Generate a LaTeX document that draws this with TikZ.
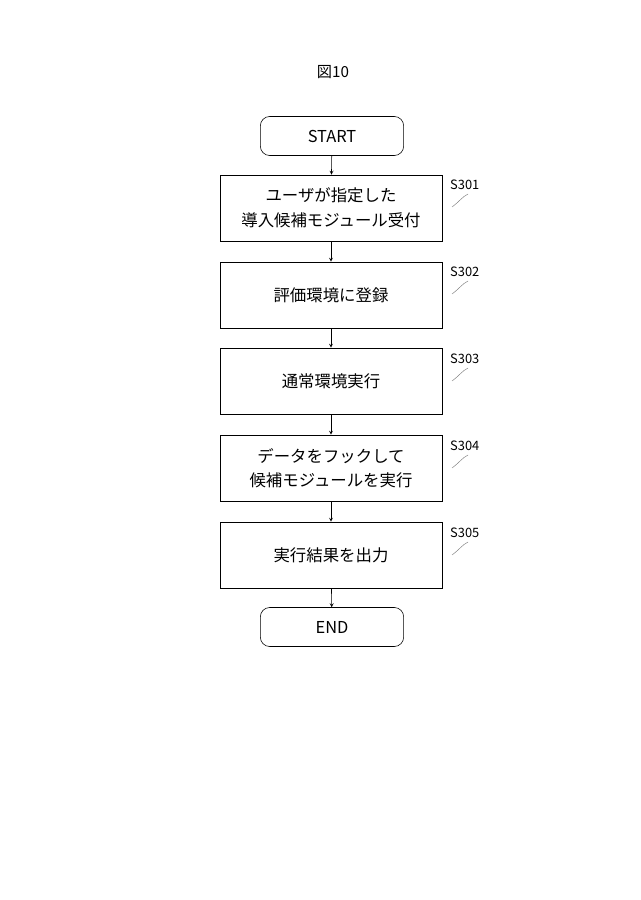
\documentclass[tikz,border=0pt]{standalone}
\usepackage{fontspec}
\setmainfont{Noto Sans CJK JP}
\begin{document}
\begin{tikzpicture}[x=0.03cm,y=-0.03cm,
  stepbox/.style={draw, minimum width=6.66cm, minimum height=1.98cm, align=center, font=\fontsize{14}{21}\selectfont},
  termbox/.style={draw, rounded corners=8pt, minimum width=4.3cm, minimum height=1.17cm, font=\fontsize{14}{17}\selectfont},
  lab/.style={font=\fontsize{11}{13}\selectfont, anchor=west},
  leader/.style={gray, thin},
  every path/.style={line width=0.5pt}]
\useasboundingbox (0,0) rectangle (640,900);

\node[font=\fontsize{13}{15}\selectfont] (title) at (333,72) {図10};

\node[termbox] (start) at (332,136) {START};
\node[stepbox] (s301) at (331,208) {ユーザが指定した\\導入候補モジュール受付};
\node[stepbox] (s302) at (331,295) {評価環境に登録};
\node[stepbox] (s303) at (331,381) {通常環境実行};
\node[stepbox] (s304) at (331,468) {データをフックして\\候補モジュールを実行};
\node[stepbox] (s305) at (331,555) {実行結果を出力};
\node[termbox] (end) at (332,627) {END};

%%%%% Arrows %%%%%%
\draw[-stealth] (start)--(s301);
\draw[-stealth] (s301)--(s302);
\draw[-stealth] (s302)--(s303);
\draw[-stealth] (s303)--(s304);
\draw[-stealth] (s304)--(s305);
\draw[-stealth] (s305)--(end);

%%%%% Labels %%%%%%
\foreach \s/\y in {301/185,302/272,303/359,304/446,305/533}{
  \node[lab] (l\s) at (446,\y) {S\s};
  \draw[leader] (468,\y+9) .. controls (462,\y+12) and (460,\y+16) .. (452,\y+22);
}
\end{tikzpicture}
\end{document}
